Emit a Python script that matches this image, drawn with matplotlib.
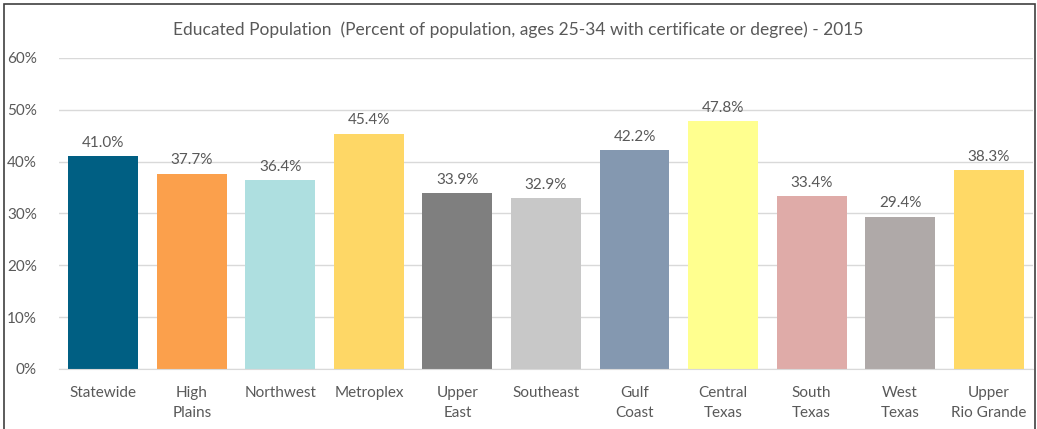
import matplotlib.pyplot as plt
from matplotlib.patches import Rectangle

regions = ["Statewide", "High\nPlains", "Northwest", "Metroplex", "Upper\nEast",
           "Southeast", "Gulf\nCoast", "Central\nTexas", "South\nTexas",
           "West\nTexas", "Upper\nRio Grande"]
pct = [41.0, 37.7, 36.4, 45.4, 33.9, 32.9, 42.2, 47.8, 33.4, 29.4, 38.3]
colors = ["#005F83", "#FBA04C", "#AEDFE0", "#FED766", "#7F7F7F", "#C8C8C8",
          "#8498B0", "#FFFF8F", "#DFABA8", "#AFA9A8", "#FFD966"]
yticks = [0, 10, 20, 30, 40, 50, 60]

plt.rcParams["font.family"] = ["Lato", "DejaVu Sans"]
txt = "#595959"

fig = plt.figure(figsize=(10.37, 4.29), dpi=100)
ax = fig.add_axes([0.057, 0.14, 0.939, 0.725])

x = range(len(regions))
ax.bar(x, pct, width=0.79, color=colors, zorder=2)
for xi, v in zip(x, pct):
    ax.text(xi, v + 1.2, f"{v:.1f}%", ha="center", va="bottom", fontsize=11, color=txt)

ax.set_xlim(-0.5, len(regions) - 0.5)
ax.set_ylim(0, 60)
ax.set_yticks(yticks)
ax.set_yticklabels([f"{t}%" for t in yticks], fontsize=11, color=txt)
ax.set_xticks(list(x))
ax.set_xticklabels(regions, fontsize=11, color=txt, linespacing=1.55)
ax.tick_params(length=0)
ax.tick_params(axis="x", pad=12)
ax.tick_params(axis="y", pad=16)
ax.grid(axis="y", color="#D9D9D9", linewidth=1, zorder=0)
for s in ["top", "right", "left"]:
    ax.spines[s].set_visible(False)
ax.spines["bottom"].set_color("#D9D9D9")

fig.text(0.5, 0.93, "Educated Population  (Percent of population, ages 25-34 with certificate or degree) - 2015",
         ha="center", va="center", fontsize=12.5, color=txt)

fig.patches.append(Rectangle((0.004, -0.02), 0.994, 1.01, transform=fig.transFigure,
                             fill=False, edgecolor="#404040", linewidth=1.2))

fig.savefig("out.png", dpi=100)
